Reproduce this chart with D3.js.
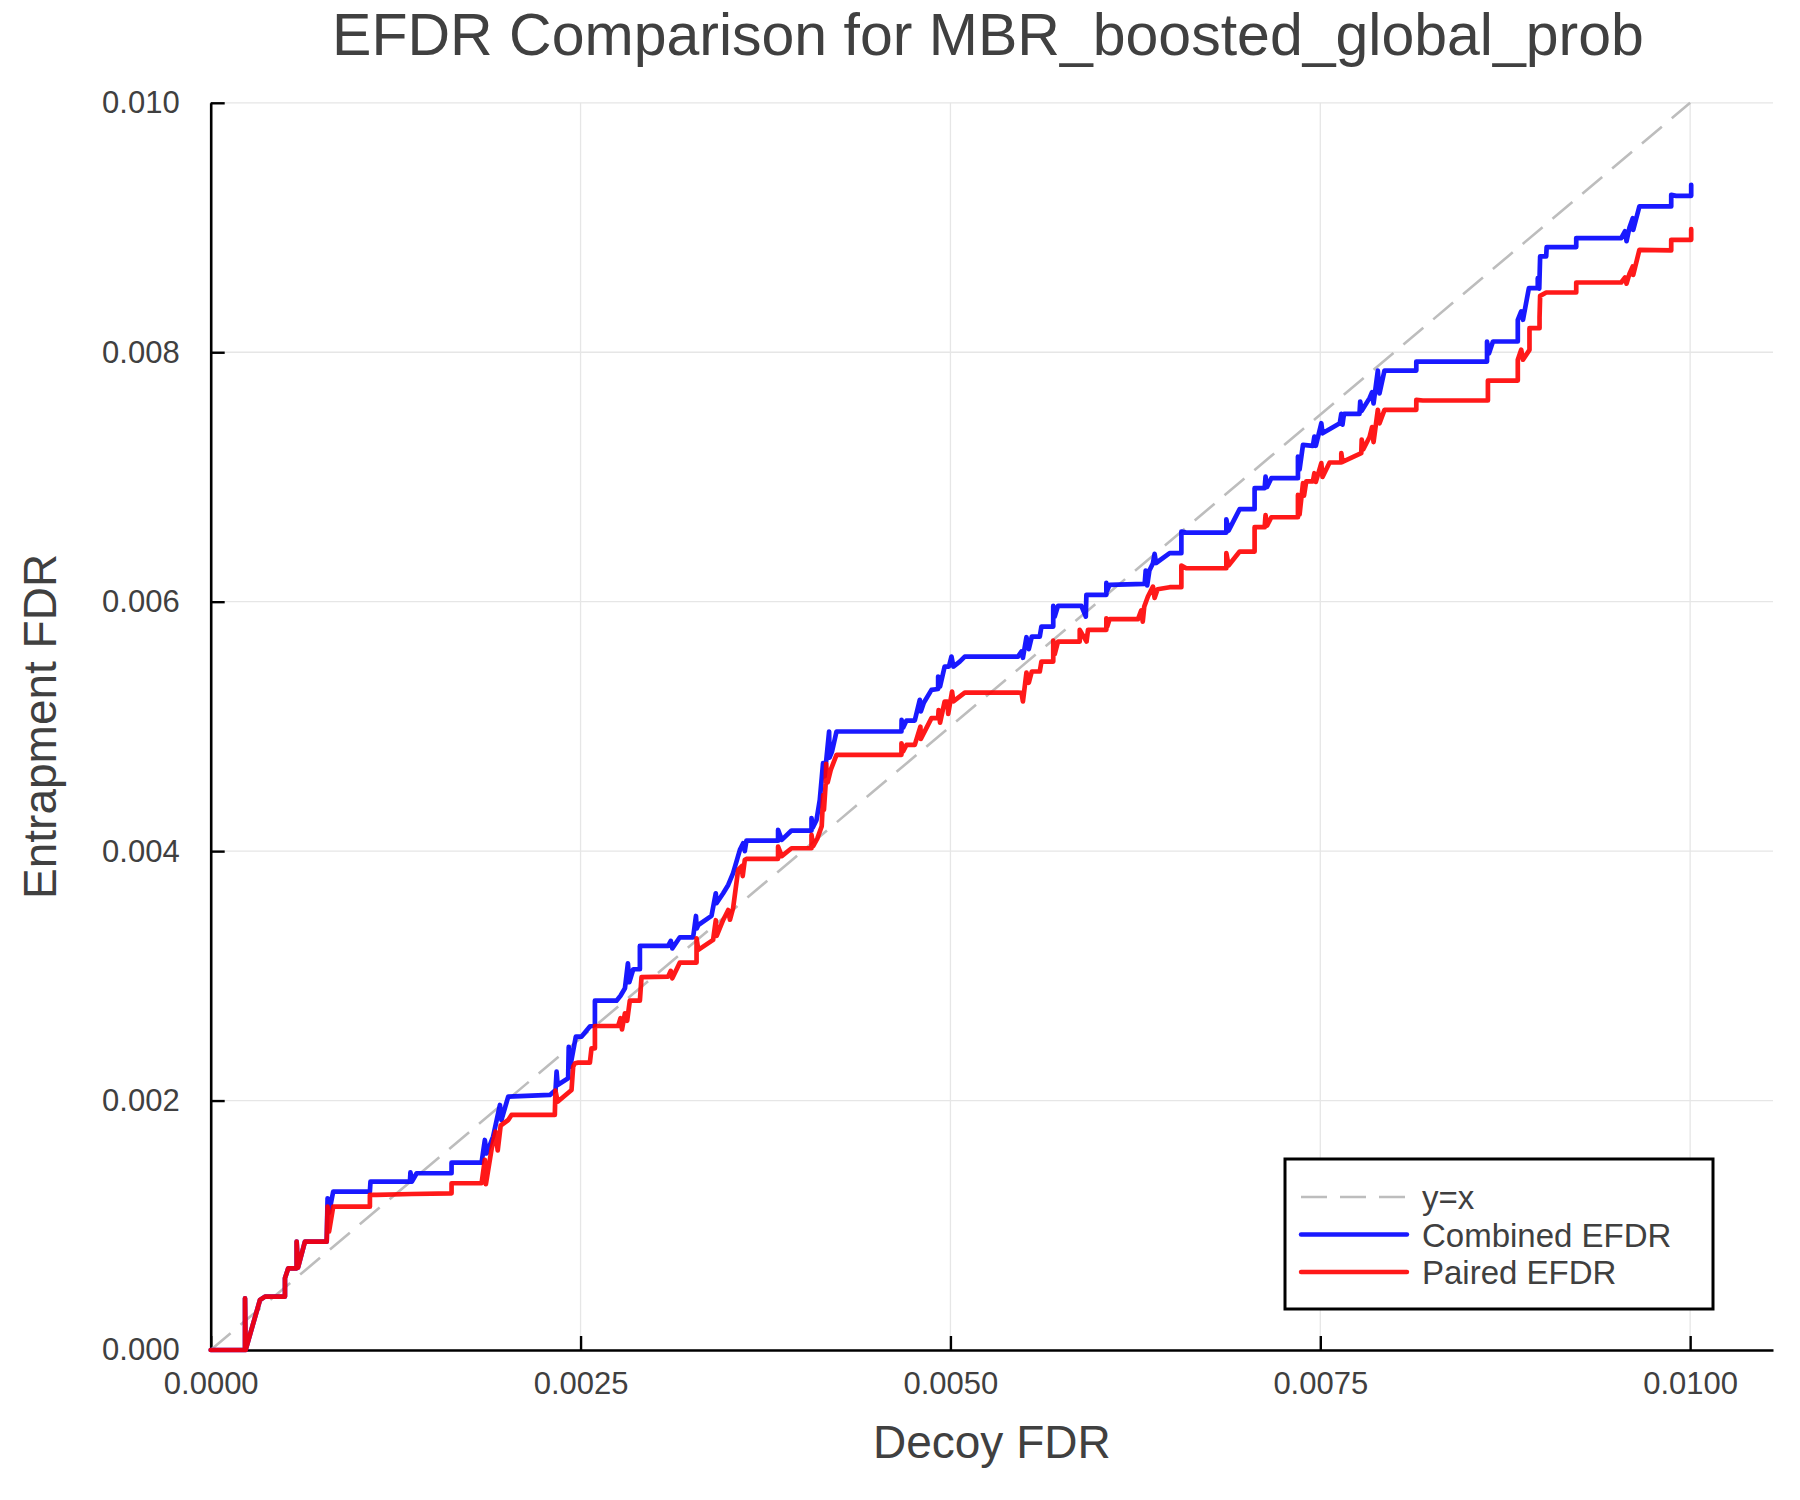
<!DOCTYPE html>
<html>
<head>
<meta charset="utf-8">
<script src="https://cdn.jsdelivr.net/npm/d3@7"></script>
<style>
  body { margin: 0; background: #fff; }
  text { font-family: "Liberation Sans", Arial, Helvetica, sans-serif; fill: #404040; }
</style>
</head>
<body>
<svg id="chart" width="1800" height="1500"></svg>
<script>
// values, in units of 1e-3 (per mille) : [decoy FDR, entrapment FDR]
var combinedEfdr = [
  [0,0],[0.232,0],[0.232,0.414],[0.236,0],[0.333,0.401],[0.367,0.428],[0.502,0.428],[0.502,0.575],[0.524,0.655],[0.581,0.655],
  [0.581,0.869],[0.590,0.66],[0.637,0.869],[0.784,0.869],[0.790,1.216],[0.800,1.10],[0.828,1.270],[1.076,1.270],[1.080,1.350],
  [1.347,1.350],[1.350,1.425],[1.360,1.35],[1.392,1.417],[1.628,1.417],[1.628,1.502],[1.831,1.502],[1.853,1.684],[1.865,1.577],
  [1.909,1.711],[1.955,1.965],[1.965,1.844],[2.011,2.031],[2.293,2.045],[2.331,2.085],[2.338,2.232],[2.345,2.125],[2.416,2.179],
  [2.42,2.43],[2.43,2.27],[2.468,2.513],[2.507,2.513],[2.563,2.593],[2.597,2.606],[2.597,2.801],[2.743,2.801],[2.77,2.84],
  [2.80,2.90],[2.82,3.10],[2.83,2.95],[2.856,3.053],[2.901,3.053],[2.901,3.240],[3.092,3.240],[3.11,3.28],[3.12,3.22],
  [3.171,3.309],[3.261,3.309],[3.28,3.48],[3.285,3.38],[3.296,3.408],[3.385,3.481],[3.414,3.662],[3.419,3.582],[3.464,3.662],
  [3.498,3.729],[3.531,3.823],[3.577,4.010],[3.599,4.063],[3.61,4.0],[3.621,4.084],[3.835,4.084],[3.835,4.170],[3.86,4.09],
  [3.926,4.165],[4.061,4.165],[4.061,4.264],[4.07,4.19],[4.095,4.250],[4.117,4.411],[4.139,4.705],[4.15,4.6],[4.180,4.959],
  [4.183,4.75],[4.20,4.80],[4.230,4.959],[4.669,4.959],[4.67,5.052],[4.68,4.99],[4.703,5.047],[4.759,5.047],[4.793,5.213],
  [4.80,5.12],[4.82,5.19],[4.872,5.293],[4.917,5.30],[4.917,5.40],[4.93,5.32],[4.961,5.480],[4.99,5.48],[5.007,5.560],
  [5.02,5.48],[5.063,5.52],[5.097,5.560],[5.457,5.560],[5.48,5.60],[5.49,5.55],[5.514,5.715],[5.53,5.62],[5.55,5.72],
  [5.604,5.72],[5.615,5.800],[5.695,5.800],[5.695,5.966],[5.705,5.88],[5.727,5.966],[5.885,5.966],[5.915,5.88],[5.919,6.055],
  [6.054,6.055],[6.054,6.15],[6.06,6.09],[6.076,6.135],[6.313,6.143],[6.32,6.25],[6.33,6.13],[6.345,6.25],[6.369,6.308],
  [6.38,6.383],[6.39,6.31],[6.482,6.389],[6.561,6.389],[6.561,6.562],[6.594,6.554],[6.865,6.554],[6.865,6.66],[6.88,6.57],
  [6.955,6.742],[7.056,6.742],[7.056,6.910],[7.124,6.910],[7.13,7.003],[7.14,6.92],[7.169,6.990],[7.349,6.990],[7.349,7.164],
  [7.36,7.06],[7.383,7.257],[7.450,7.249],[7.46,7.324],[7.47,7.25],[7.507,7.431],[7.515,7.35],[7.632,7.431],[7.642,7.506],
  [7.65,7.42],[7.66,7.506],[7.765,7.506],[7.77,7.605],[7.78,7.53],[7.833,7.632],[7.85,7.68],[7.86,7.59],[7.889,7.853],
  [7.9,7.67],[7.934,7.853],[8.149,7.853],[8.149,7.925],[8.627,7.925],[8.627,8.086],[8.64,7.99],[8.667,8.086],[8.835,8.086],
  [8.835,8.260],[8.858,8.327],[8.87,8.26],[8.910,8.514],[8.970,8.514],[8.970,8.594],[8.98,8.51],[8.986,8.768],[9.027,8.768],
  [9.03,8.843],[9.230,8.843],[9.230,8.915],[9.534,8.915],[9.56,8.97],[9.57,8.89],[9.59,9.0],[9.612,9.075],[9.615,8.98],
  [9.657,9.169],[9.872,9.169],[9.872,9.262],[9.905,9.254],[10.007,9.254],[10.007,9.342]
];

var pairedEfdr = [
  [0,0],[0.232,0],[0.232,0.414],[0.236,0],[0.333,0.401],[0.367,0.428],[0.502,0.428],[0.502,0.575],[0.524,0.655],[0.581,0.655],
  [0.581,0.869],[0.590,0.66],[0.637,0.869],[0.784,0.869],[0.790,1.15],[0.80,0.95],[0.828,1.149],[1.076,1.149],[1.076,1.243],
  [1.122,1.243],[1.358,1.251],[1.628,1.256],[1.628,1.337],[1.831,1.337],[1.853,1.524],[1.86,1.33],[1.90,1.62],[1.925,1.75],
  [1.94,1.60],[1.96,1.80],[2.011,1.844],[2.033,1.885],[2.326,1.885],[2.33,2.08],[2.345,1.991],[2.439,2.085],[2.450,2.272],
  [2.462,2.299],[2.484,2.304],[2.563,2.304],[2.574,2.419],[2.597,2.419],[2.597,2.598],[2.754,2.598],[2.77,2.66],[2.78,2.57],
  [2.80,2.70],[2.815,2.64],[2.833,2.801],[2.901,2.801],[2.912,2.989],[3.092,2.994],[3.11,3.04],[3.12,2.98],[3.171,3.106],
  [3.284,3.106],[3.284,3.301],[3.296,3.208],[3.396,3.288],[3.414,3.446],[3.42,3.32],[3.464,3.448],[3.498,3.528],[3.51,3.45],
  [3.531,3.542],[3.565,3.849],[3.59,3.88],[3.596,3.80],[3.610,3.929],[3.621,3.938],[3.835,3.938],[3.835,4.036],[3.86,3.96],
  [3.926,4.023],[4.061,4.023],[4.061,4.130],[4.072,4.04],[4.10,4.10],[4.13,4.20],[4.14,4.45],[4.145,4.33],[4.157,4.545],
  [4.16,4.70],[4.17,4.55],[4.191,4.651],[4.230,4.772],[4.669,4.772],[4.669,4.865],[4.68,4.80],[4.703,4.852],[4.759,4.852],
  [4.797,4.998],[4.80,4.90],[4.872,5.066],[4.917,5.066],[4.92,5.13],[4.93,5.03],[4.961,5.199],[4.98,5.199],[4.985,5.10],
  [5.011,5.279],[5.02,5.20],[5.097,5.271],[5.457,5.271],[5.48,5.27],[5.49,5.2],[5.514,5.432],[5.53,5.35],[5.55,5.44],
  [5.604,5.440],[5.615,5.520],[5.695,5.520],[5.695,5.688],[5.705,5.58],[5.727,5.680],[5.874,5.680],[5.874,5.774],[5.92,5.68],
  [5.930,5.774],[6.054,5.774],[6.054,5.867],[6.06,5.80],[6.076,5.860],[6.268,5.860],[6.29,5.93],[6.30,5.84],[6.31,5.96],
  [6.335,6.041],[6.369,6.121],[6.38,6.03],[6.40,6.10],[6.482,6.116],[6.561,6.116],[6.561,6.290],[6.594,6.268],[6.865,6.268],
  [6.865,6.39],[6.88,6.29],[6.955,6.402],[7.056,6.402],[7.056,6.597],[7.124,6.597],[7.13,6.694],[7.14,6.61],[7.169,6.677],
  [7.349,6.677],[7.349,6.856],[7.36,6.70],[7.383,6.950],[7.39,6.85],[7.405,6.964],[7.45,6.964],[7.46,7.03],[7.47,6.96],
  [7.507,7.111],[7.515,7.0],[7.563,7.116],[7.642,7.116],[7.642,7.191],[7.65,7.12],[7.777,7.191],[7.78,7.30],[7.79,7.22],
  [7.833,7.32],[7.85,7.40],[7.86,7.28],[7.889,7.538],[7.9,7.43],[7.934,7.538],[8.149,7.538],[8.149,7.618],[8.193,7.613],
  [8.633,7.613],[8.633,7.773],[8.835,7.773],[8.835,7.939],[8.858,8.02],[8.87,7.94],[8.914,8.019],[8.914,8.193],[8.982,8.193],
  [8.982,8.28],[8.986,8.452],[9.027,8.479],[9.230,8.479],[9.230,8.559],[9.534,8.559],[9.56,8.60],[9.57,8.55],[9.59,8.63],
  [9.612,8.687],[9.615,8.62],[9.657,8.821],[9.872,8.816],[9.872,8.901],[10.007,8.901],[10.007,8.987]
];

var diagonal = [[0,0],[10,10]];

var xTicks = [0, 0.0025, 0.005, 0.0075, 0.01];
var yTicks = [0, 0.002, 0.004, 0.006, 0.008, 0.01];
var legendLabels = ["y=x", "Combined EFDR", "Paired EFDR"];

var svg = d3.select('#chart');

// plot frame (note: "top" is taken by window.top, so prefix everything)
var plotLeft = 210.7, plotRight = 1773, plotTop = 102.8, plotBottom = 1350;

var x = d3.scaleLinear().domain([0, 0.01056]).range([plotLeft, plotRight]);
var y = d3.scaleLinear().domain([0, 0.01]).range([plotBottom, plotTop]);

//grid
svg.append('g').selectAll('line').data(xTicks).enter().append('line')
    .attr('x1', function(d){ return x(d); }).attr('x2', function(d){ return x(d); })
    .attr('y1', plotTop).attr('y2', plotBottom)
    .attr('stroke', '#e6e6e6').attr('stroke-width', 1.3);
svg.append('g').selectAll('line').data(yTicks).enter().append('line')
    .attr('y1', function(d){ return y(d); }).attr('y2', function(d){ return y(d); })
    .attr('x1', plotLeft).attr('x2', plotRight)
    .attr('stroke', '#e6e6e6').attr('stroke-width', 1.3);

//axes, ticks pointing inwards
var xAxis = d3.axisBottom(x).tickValues(xTicks).tickFormat(d3.format('.4f'))
    .tickSizeInner(-14).tickSizeOuter(0).tickPadding(22);
var yAxis = d3.axisLeft(y).tickValues(yTicks).tickFormat(d3.format('.3f'))
    .tickSizeInner(-14).tickSizeOuter(0).tickPadding(31);

var gx = svg.append('g').attr('transform', 'translate(0,' + plotBottom + ')').call(xAxis);
var gy = svg.append('g').attr('transform', 'translate(' + plotLeft + ',0)').call(yAxis);

[gx, gy].forEach(function(g){
    g.select('.domain').attr('stroke', '#000').attr('stroke-width', 2.6);
    g.selectAll('.tick line').attr('stroke', '#000').attr('stroke-width', 2.4);
    g.selectAll('.tick text').style('font-size', '31px').attr('fill', '#404040')
        .style('font-family', '"Liberation Sans", Arial, sans-serif');
});

// lines
var line = d3.line()
    .x(function(d){ return x(d[0] / 1000); })
    .y(function(d){ return y(d[1] / 1000); });

svg.append('path').datum(diagonal)
    .attr('d', line).attr('fill', 'none')
    .attr('stroke', '#bdbdbd').attr('stroke-width', 2.6)
    .attr('stroke-dasharray', '26,13');

svg.append('path').datum(combinedEfdr)
    .attr('d', line).attr('fill', 'none')
    .attr('stroke', 'rgba(0,0,255,0.9)').attr('stroke-width', 4.7)
    .attr('stroke-linejoin', 'round').attr('stroke-linecap', 'round');

svg.append('path').datum(pairedEfdr)
    .attr('d', line).attr('fill', 'none')
    .attr('stroke', 'rgba(255,0,0,0.9)').attr('stroke-width', 4.7)
    .attr('stroke-linejoin', 'round').attr('stroke-linecap', 'round');

//title + axis labels
svg.append('text').attr('x', 988).attr('y', 55)
    .attr('text-anchor', 'middle').style('font-size', '59px')
    .text('EFDR Comparison for MBR_boosted_global_prob');

svg.append('text').attr('x', (plotLeft + plotRight) / 2).attr('y', 1458)
    .attr('text-anchor', 'middle').style('font-size', '46px')
    .text('Decoy FDR');

svg.append('text')
    .attr('transform', 'translate(56,' + ((plotTop + plotBottom) / 2) + ') rotate(-90)')
    .attr('text-anchor', 'middle').style('font-size', '46px')
    .text('Entrapment FDR');

//legend
var legend = svg.append('g');
legend.append('rect').attr('x', 1285).attr('y', 1159).attr('width', 428).attr('height', 150)
    .attr('fill', '#fff').attr('stroke', '#000').attr('stroke-width', 3);

var legendStyles = [
    {stroke: '#bdbdbd', dash: '26,13', w: 2.6},
    {stroke: 'rgba(0,0,255,0.9)', dash: null, w: 4.4},
    {stroke: 'rgba(255,0,0,0.9)', dash: null, w: 4.4}
];

legendLabels.forEach(function(lab, i){
    var cy = 1197 + i * 37.5;
    legend.append('line').attr('x1', 1301).attr('x2', 1407).attr('y1', cy).attr('y2', cy)
        .attr('stroke', legendStyles[i].stroke).attr('stroke-width', legendStyles[i].w)
        .attr('stroke-dasharray', legendStyles[i].dash)
        .attr('stroke-linecap', legendStyles[i].dash ? 'butt' : 'round');
    legend.append('text').attr('x', 1422).attr('y', cy + 12)
        .style('font-size', '33px').text(lab);
});
</script>
</body>
</html>
